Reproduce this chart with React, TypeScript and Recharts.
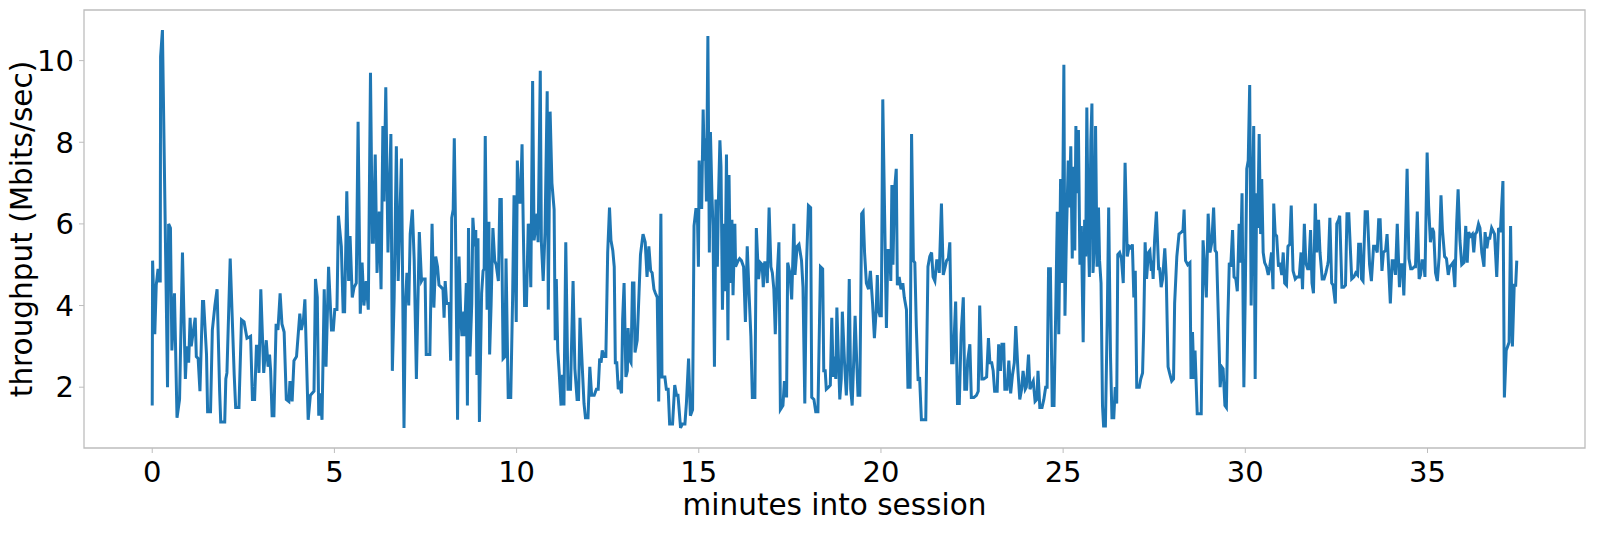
import React from 'react';
import { LineChart, Line, XAxis, YAxis, ReferenceArea } from 'recharts';

// sample times (minutes into session) and measured throughput (Mbits/sec)
const minutes: number[] = [
  0.0, 0.01, 0.07, 0.11, 0.16, 0.19, 0.22, 0.23, 0.28, 0.42, 0.45, 0.5, 0.54, 0.61, 0.68, 0.75, 0.83, 0.91, 0.95, 1.0,
  1.04, 1.07, 1.18, 1.21, 1.26, 1.31, 1.38, 1.41, 1.49, 1.52, 1.6, 1.65, 1.72, 1.78, 1.85, 1.88, 1.99, 2.02, 2.05, 2.14,
  2.25, 2.29, 2.38, 2.45, 2.52, 2.6, 2.7, 2.75, 2.81, 2.86, 2.91, 2.93, 2.98, 3.06,
  3.13, 3.18, 3.22, 3.25, 3.29, 3.34, 3.4, 3.45, 3.51, 3.56, 3.62, 3.68, 3.75, 3.78, 3.84, 3.89, 3.96, 4.05, 4.09, 4.15,
  4.19, 4.28, 4.34, 4.39, 4.44, 4.48, 4.53, 4.57, 4.61, 4.66, 4.72, 4.77, 4.84, 4.92, 4.97, 5.01, 5.07, 5.11, 5.19, 5.24,
  5.28, 5.34, 5.39, 5.43, 5.49, 5.54, 5.6, 5.65, 5.71, 5.76, 5.81, 5.87, 5.93, 5.99, 6.04, 6.07, 6.12, 6.17, 6.23, 6.28,
  6.33, 6.36, 6.41, 6.47,
  6.55, 6.59, 6.64, 6.7, 6.75, 6.84, 6.91, 6.95, 6.99, 7.04, 7.08, 7.14, 7.19, 7.25, 7.33, 7.39, 7.42, 7.49, 7.52, 7.62,
  7.68, 7.73, 7.78, 7.83, 7.87, 7.93, 7.98, 8.01, 8.04, 8.08, 8.15, 8.19, 8.22, 8.26, 8.29, 8.32, 8.38, 8.42, 8.47, 8.5,
  8.55, 8.57, 8.62, 8.65, 8.68, 8.72, 8.77, 8.8, 8.85, 8.88, 8.91, 8.94, 8.98, 9.04, 9.08, 9.11, 9.14, 9.19, 9.24, 9.26,
  9.3, 9.35, 9.4, 9.44, 9.5, 9.54, 9.58, 9.63, 9.68, 9.71, 9.77, 9.84, 9.89, 9.93,
  9.99, 10.02, 10.06, 10.09, 10.11, 10.15, 10.18, 10.22, 10.27, 10.32, 10.35, 10.39, 10.44, 10.48, 10.52, 10.56, 10.59,
  10.65, 10.68, 10.73, 10.78, 10.84, 10.87, 10.92, 10.97, 11.03, 11.06, 11.09, 11.13, 11.17, 11.22, 11.26, 11.3, 11.35,
  11.41, 11.48, 11.55, 11.6, 11.66, 11.7, 11.74, 11.81, 11.85, 11.89, 11.96, 12.01, 12.06, 12.13, 12.19, 12.24, 12.28,
  12.32, 12.35, 12.4, 12.45, 12.5, 12.55, 12.59, 12.64, 12.68, 12.71, 12.75, 12.79, 12.83, 12.88, 12.91, 12.95, 13.0,
  13.04, 13.06, 13.11, 13.14, 13.18, 13.22, 13.25, 13.31, 13.36,
  13.4, 13.47, 13.53, 13.58, 13.63, 13.68, 13.72, 13.77, 13.81, 13.86, 13.9, 13.96, 13.99, 14.07, 14.11, 14.16, 14.2,
  14.28, 14.34, 14.39, 14.43, 14.5, 14.55, 14.62, 14.66, 14.72, 14.77, 14.83, 14.87, 14.92, 14.96, 14.99, 15.01, 15.05,
  15.08, 15.12, 15.15, 15.18, 15.21, 15.25, 15.29, 15.32, 15.36, 15.39, 15.43, 15.47, 15.51, 15.54, 15.58, 15.61, 15.65,
  15.69, 15.72, 15.76, 15.8, 15.83, 15.87, 15.91, 15.94, 15.99, 16.01, 16.08, 16.12, 16.17, 16.23, 16.28, 16.33, 16.38,
  16.43, 16.47, 16.54, 16.58, 16.64, 16.69, 16.74, 16.77, 16.81, 16.86, 16.88, 16.93, 16.98, 17.02, 17.06, 17.1, 17.15,
  17.2, 17.24, 17.31, 17.35, 17.41, 17.44, 17.5, 17.55, 17.61, 17.64, 17.7, 17.75,
  17.82, 17.86, 17.91, 17.96, 18.01, 18.07, 18.1, 18.16, 18.21, 18.27, 18.34, 18.4, 18.43, 18.47, 18.5, 18.56, 18.61,
  18.65, 18.69, 18.72, 18.76, 18.79, 18.83, 18.87, 18.91, 18.94, 19.0, 19.05, 19.09, 19.13, 19.17, 19.21, 19.26, 19.29,
  19.33, 19.37, 19.42, 19.47, 19.51, 19.55, 19.6, 19.66, 19.71, 19.77, 19.82, 19.87, 19.9, 19.93, 19.97, 20.01, 20.05,
  20.1, 20.15, 20.19, 20.24, 20.27, 20.3, 20.33, 20.37, 20.42, 20.45, 20.5, 20.55, 20.6, 20.64, 20.7, 20.74, 20.8, 20.84,
  20.89, 20.93, 20.97, 21.02, 21.06, 21.11, 21.23, 21.29, 21.34, 21.39, 21.43, 21.48, 21.53, 21.57, 21.6, 21.66, 21.71,
  21.75, 21.8, 21.85, 21.89, 21.94, 21.98, 22.05, 22.1, 22.15,
  22.2, 22.26, 22.3, 22.35, 22.38, 22.44, 22.48, 22.55, 22.62, 22.67, 22.71, 22.77, 22.82, 22.9, 22.95, 22.99, 23.04,
  23.08, 23.12, 23.19, 23.23, 23.28, 23.32, 23.37, 23.4, 23.46, 23.51, 23.56, 23.61, 23.66, 23.7, 23.76, 23.81, 23.86,
  23.9, 23.96, 23.99, 24.05, 24.09, 24.13, 24.18, 24.23, 24.28, 24.31, 24.36, 24.42, 24.47, 24.52, 24.56, 24.6, 24.65,
  24.7, 24.75, 24.8, 24.84, 24.88, 24.93, 24.97, 25.02, 25.05, 25.09, 25.14, 25.17, 25.21, 25.25, 25.28, 25.32, 25.35,
  25.38, 25.42, 25.46, 25.5, 25.55, 25.59, 25.62, 25.65, 25.69, 25.72, 25.76, 25.79, 25.82, 25.86, 25.89, 25.93, 25.97,
  26.0, 26.04, 26.08, 26.11, 26.16, 26.21, 26.25, 26.3, 26.34, 26.39, 26.43, 26.47, 26.5, 26.55,
  26.6, 26.65, 26.7, 26.76, 26.81, 26.87, 26.9, 26.94, 26.98, 27.02, 27.09, 27.13, 27.18, 27.21, 27.25, 27.29, 27.34,
  27.38, 27.42, 27.44, 27.47, 27.51, 27.56, 27.62, 27.65, 27.69, 27.73, 27.79, 27.83, 27.88, 27.92, 27.98, 28.03, 28.06,
  28.12, 28.18, 28.25, 28.29, 28.32, 28.36, 28.42, 28.48, 28.51, 28.55, 28.59, 28.62, 28.68, 28.73, 28.79, 28.84, 28.89,
  28.93, 28.98, 29.03, 29.08, 29.13, 29.17, 29.21, 29.26, 29.31, 29.35, 29.39, 29.44, 29.48, 29.52, 29.56, 29.6, 29.65,
  29.69, 29.74, 29.78, 29.83, 29.87, 29.91, 29.96, 30.0, 30.04, 30.08, 30.12, 30.16, 30.2, 30.23, 30.27, 30.31, 30.34,
  30.38, 30.42, 30.45, 30.49, 30.53, 30.58, 30.63, 30.67, 30.72, 30.76, 30.78, 30.82, 30.86, 30.91, 30.95,
  31.0, 31.04, 31.08, 31.13, 31.17, 31.22, 31.26, 31.31, 31.37, 31.42, 31.48, 31.53, 31.57, 31.62, 31.66, 31.71, 31.74,
  31.79, 31.83, 31.87, 31.92, 31.96, 32.01, 32.05, 32.11, 32.16, 32.21, 32.26, 32.28, 32.32, 32.37, 32.41, 32.47, 32.51,
  32.56, 32.59, 32.65, 32.7, 32.75, 32.79, 32.84, 32.88, 32.92, 32.98, 33.03, 33.08, 33.11, 33.16, 33.19, 33.23, 33.29,
  33.35, 33.41, 33.46, 33.52, 33.57, 33.62, 33.66, 33.7, 33.75, 33.79, 33.85, 33.89, 33.93, 33.98, 34.03, 34.07, 34.12,
  34.17, 34.23, 34.26, 34.31, 34.35, 34.38, 34.44, 34.49, 34.54, 34.58, 34.64, 34.67, 34.72, 34.77, 34.81, 34.85, 34.89,
  34.93, 34.99, 35.03, 35.08, 35.13, 35.17, 35.22, 35.27, 35.32, 35.37, 35.41, 35.47, 35.52, 35.57, 35.61, 35.66, 35.7,
  35.75, 35.8, 35.84, 35.89, 35.94, 36.0, 36.05, 36.09, 36.13, 36.18, 36.23, 36.27, 36.31, 36.35, 36.4, 36.44, 36.49,
  36.55, 36.58, 36.63, 36.67, 36.71, 36.76, 36.84, 36.9, 36.95, 37.0, 37.07, 37.11, 37.16, 37.24, 37.28, 37.33, 37.38,
  37.42, 37.45,
];

const mbps: number[] = [
  1.55, 5.1, 3.3, 4.5, 4.9, 4.6, 4.6, 10.1, 10.75, 2.0, 6.0, 5.9, 2.9, 4.3, 1.25, 1.7, 5.3, 2.2, 3.0, 2.6,
  3.7, 3.0, 3.7, 2.75, 2.7, 1.9, 4.1, 4.1, 2.8, 1.4, 1.4, 3.4, 4.0, 4.4, 1.9, 1.15, 1.15, 2.2, 2.35, 5.15,
  2.3, 1.5, 1.5, 3.65, 3.6, 3.2, 3.25, 1.7, 1.7, 3.0, 3.0, 2.35, 4.4, 2.35,
  3.15, 2.5, 2.8, 2.4, 1.3, 1.3, 3.55, 3.4, 4.3, 3.55, 3.35, 1.7, 1.65, 2.15, 1.65, 2.65, 2.75, 3.8, 3.4, 3.65,
  4.15, 1.2, 1.8, 1.85, 1.9, 4.65, 4.2, 1.3, 1.85, 1.2, 4.4, 2.5, 4.95, 3.4, 3.4, 3.9, 3.9, 6.2, 5.45, 3.85,
  3.85, 6.8, 4.6, 5.7, 4.2, 4.45, 4.55, 8.5, 3.8, 5.05, 4.0, 4.6, 3.9, 9.7, 5.55, 5.55, 7.7, 4.8, 6.3, 4.4,
  8.4, 6.55, 9.35, 5.3,
  8.2, 2.4, 4.2, 7.9, 4.6, 7.6, 1.0, 4.05, 4.8, 4.0, 5.75, 6.35, 5.1, 2.2, 5.8, 4.6, 4.65, 4.65, 2.8, 2.8,
  6.0, 3.95, 5.2, 4.95, 4.5, 4.45, 4.4, 3.7, 4.6, 4.05, 4.05, 2.65, 6.15, 6.35, 8.1, 6.2, 1.2, 5.2, 3.65, 3.25,
  3.85, 3.25, 4.55, 1.55, 5.9, 2.75, 4.05, 6.15, 5.45, 5.85, 2.3, 5.65, 1.15, 4.3, 4.85, 4.9, 8.15, 3.9, 6.05, 2.8,
  4.0, 5.9, 5.1, 5.0, 4.6, 6.6, 6.6, 2.7, 2.75, 5.15, 1.75, 1.75, 4.15, 6.7,
  3.6, 7.55, 6.65, 6.5, 6.65, 7.95, 6.1, 4.0, 4.0, 6.0, 5.9, 4.45, 9.5, 5.6, 5.9, 6.25, 5.55,
  9.75, 5.55, 4.6, 5.8, 9.25, 3.9, 8.75, 7.0, 6.35, 3.15, 4.65, 2.9, 2.35, 1.55, 2.3, 1.55, 5.55,
  1.95, 1.95, 4.6, 2.45, 1.7, 1.7, 3.7, 2.35, 1.6, 1.25, 1.25, 2.5, 1.8, 1.8, 1.95, 1.95, 2.7,
  2.6, 2.9, 2.75, 2.75, 5.3, 6.4, 5.6, 5.35, 4.95, 2.6, 2.6, 1.95, 2.05, 1.85, 3.65, 4.55, 2.25,
  2.4, 3.45, 2.65, 2.6, 4.55, 4.55, 2.85, 3.15, 4.3,
  5.25, 5.75, 5.55, 4.7, 5.45, 4.85, 4.8, 4.4, 4.3, 4.2, 1.65, 6.25, 2.25, 2.25, 1.95, 1.95, 1.1,
  1.1, 2.05, 1.8, 1.8, 1.0, 1.1, 1.1, 1.6, 2.7, 1.3, 1.45, 5.95, 6.35, 6.35, 4.95, 7.55, 6.4,
  6.4, 8.8, 7.55, 8.1, 6.55, 10.6, 5.3, 8.25, 6.75, 5.95, 2.5, 6.6, 4.95, 6.6, 8.05, 7.4, 3.9,
  6.0, 4.35, 7.7, 3.15, 7.2, 4.55, 6.1, 4.25, 6.0, 4.95, 5.1, 5.15, 5.1, 4.95, 3.6, 5.45, 4.3,
  3.25, 1.75, 1.75, 5.9, 4.65, 5.05, 5.0, 4.45, 5.05, 5.05, 4.55, 6.4, 4.95, 4.8, 4.4, 3.3, 4.7,
  5.55, 1.45, 1.55, 2.15, 1.75, 5.05, 4.8, 4.15, 6.0, 4.75, 5.45, 5.5,
  5.1, 4.45, 1.6, 5.1, 6.45, 6.4, 1.75, 1.7, 1.4, 1.4, 4.95, 4.9, 2.4, 2.4, 1.95, 2.0, 2.05,
  3.7, 2.25, 2.75, 2.2, 3.95, 2.8, 1.7, 2.2, 3.85, 2.6, 1.8, 2.6, 4.65, 1.95, 1.55, 2.85, 3.75,
  2.75, 1.8, 1.8, 6.25, 6.3, 5.3, 4.55, 4.4, 4.85, 4.05, 3.2, 3.9, 4.75, 3.9, 3.75, 3.75, 9.05,
  6.25, 3.45, 5.35, 5.35, 4.6, 6.95, 5.0, 6.8, 7.35, 4.5, 4.7, 4.4, 4.55, 4.2, 3.9, 2.0, 2.0, 8.2,
  5.1, 5.05, 3.5, 2.15, 2.25, 1.2, 1.2, 4.95, 5.2, 5.3, 4.7, 4.6, 5.1, 5.1, 4.8, 6.5, 4.75,
  4.9, 5.1, 5.15, 5.55, 2.6, 2.6, 4.1, 1.6, 1.6,
  3.3, 4.2, 1.95, 1.95, 2.65, 3.05, 1.75, 1.75, 1.8, 1.9, 4.0, 2.2, 2.2, 2.25, 3.2, 2.6, 2.6,
  2.4, 1.9, 1.9, 3.05, 2.4, 3.05, 3.05, 1.95, 1.95, 2.65, 1.85, 2.3, 2.6, 3.5, 2.4, 1.7, 1.95,
  2.4, 1.95, 2.0, 2.8, 1.95, 2.05, 2.15, 1.65, 1.7, 2.4, 1.5, 1.5, 1.7, 2.0, 2.0, 4.9, 4.9,
  1.55, 1.55, 4.05, 6.3, 3.3, 7.1, 4.55, 9.9, 3.75, 5.7, 7.55, 6.4, 7.9, 5.15, 7.4, 5.35, 8.4,
  6.75, 8.3, 5.0, 5.95, 3.1, 6.1, 5.2, 8.85, 5.75, 4.7, 8.05, 8.95, 4.8, 5.6, 8.4, 4.95, 6.4,
  5.1, 4.55, 1.55, 1.05, 1.05, 3.65, 6.4, 2.75, 1.25, 1.25, 2.0, 1.6, 5.25, 5.3,
  5.15, 4.55, 7.5, 5.2, 5.45, 5.4, 5.5, 4.2, 4.85, 2.0, 2.0, 2.2, 2.35, 3.4, 5.55, 4.65, 5.3,
  5.35, 4.85, 5.1, 4.65, 5.6, 6.3, 4.9, 4.9, 4.45, 4.65, 5.4, 4.7, 2.5, 2.35, 2.15, 2.2, 4.05,
  5.2, 5.75, 5.8, 5.85, 6.35, 5.1, 5.0, 5.05, 2.2, 3.35, 2.2, 2.9, 1.35, 1.35, 1.35, 5.6, 4.85,
  4.2, 6.25, 5.3, 5.55, 6.4, 5.35, 5.3, 3.7, 2.0, 2.5, 2.45, 1.55, 1.5, 3.65, 5.05, 4.95, 5.85,
  4.7, 4.65, 4.35, 6.0, 5.05, 6.75, 2.0, 4.4, 7.35, 7.55, 9.4, 4.0, 6.75, 8.4, 2.2, 6.75, 5.9,
  8.2, 5.75, 7.1, 5.3, 5.05, 4.95, 4.75, 4.95, 5.3, 4.4, 6.5, 5.75, 5.7, 4.95, 5.05,
  4.75, 5.3, 4.55, 4.5, 5.45, 5.5, 6.45, 4.85, 4.65, 4.7, 4.7, 5.3, 4.4, 6.0, 5.05, 4.9, 4.9,
  5.85, 4.55, 4.3, 6.5, 5.3, 6.1, 5.3, 4.65, 4.65, 4.8, 5.0, 5.1, 6.15, 4.55, 4.5, 4.05, 6.0,
  6.1, 6.2, 4.45, 4.45, 4.5, 6.25, 6.25, 5.45, 4.65, 4.7, 4.8, 4.75, 5.5, 5.5, 4.65, 4.6, 6.3,
  6.3, 5.0, 4.6, 5.45, 5.45, 5.3, 6.1, 6.1, 4.85, 5.3, 5.35, 5.75, 5.0, 4.05, 5.1, 5.1, 4.75,
  6.0, 4.45, 5.0, 5.0, 4.25, 5.1, 7.35, 5.15, 4.9, 4.9, 4.95, 4.95, 6.3, 4.65, 4.75, 5.1, 5.1,
  4.7, 7.75, 6.45, 5.55, 5.9, 5.8, 4.8, 4.6, 5.2, 6.7, 5.85, 5.2, 5.15, 4.75, 4.95, 5.0, 5.05,
  4.45, 6.0, 6.85, 5.6, 5.0, 5.05, 5.95, 5.05, 5.8, 5.7, 5.75, 5.3, 5.75, 5.8, 6.0, 5.9, 5.3,
  4.95, 5.8, 5.4, 5.65, 5.65, 5.9, 5.75, 4.7, 5.9, 5.8, 7.05, 1.75, 2.9, 3.1, 5.95, 3.0, 4.5,
  4.5, 5.1,
];

const xTicks = [0, 5, 10, 15, 20, 25, 30, 35];
const yTicks = [2, 4, 6, 8, 10];

const X_DOMAIN: [number, number] = [-1.8725, 39.3225];
const Y_DOMAIN: [number, number] = [0.51, 11.24];

const data = minutes.map((m, i) => ({ minute: m, throughput: mbps[i] }));

const FONT = '"DejaVu Sans", Verdana, sans-serif';
const SPINE = '#bdbdbd';

export default function App() {
  return (
    <div style={{ position: 'absolute', left: 0, top: 0, width: 1600, height: 533, background: '#fff' }}>
      <style>{'body{margin:0}'}</style>
      <LineChart width={1600} height={533} data={data} margin={{ top: 10, right: 15, bottom: 0, left: 0 }}>
        <XAxis
          dataKey="minute"
          type="number"
          domain={X_DOMAIN}
          allowDataOverflow
          ticks={xTicks}
          height={85}
          axisLine={false}
          tickLine={{ stroke: SPINE }}
          tickSize={5}
          tickMargin={8}
          tick={{ fill: '#000', fontSize: 29, fontFamily: FONT }}
          label={{
            value: 'minutes into session',
            position: 'insideBottom',
            offset: 18,
            style: { fill: '#000', fontSize: 29.5, fontFamily: FONT },
          }}
        />
        <YAxis
          type="number"
          domain={Y_DOMAIN}
          allowDataOverflow
          ticks={yTicks}
          width={84}
          axisLine={false}
          tickLine={{ stroke: SPINE }}
          tickSize={5}
          tickMargin={5}
          tick={{ fill: '#000', fontSize: 29, fontFamily: FONT }}
          label={{
            value: 'throughput (Mbits/sec)',
            angle: -90,
            position: 'insideLeft',
            offset: 22,
            textAnchor: 'middle',
            style: { fill: '#000', fontSize: 29.5, fontFamily: FONT, textAnchor: 'middle' },
          }}
        />
        <ReferenceArea
          x1={X_DOMAIN[0]}
          x2={X_DOMAIN[1]}
          y1={Y_DOMAIN[0]}
          y2={Y_DOMAIN[1]}
          fill="none"
          stroke={SPINE}
          strokeWidth={1.3}
        />
        <Line
          type="linear"
          dataKey="throughput"
          stroke="#1f77b4"
          strokeWidth={3}
          dot={false}
          activeDot={false}
          isAnimationActive={false}
        />
      </LineChart>
    </div>
  );
}
